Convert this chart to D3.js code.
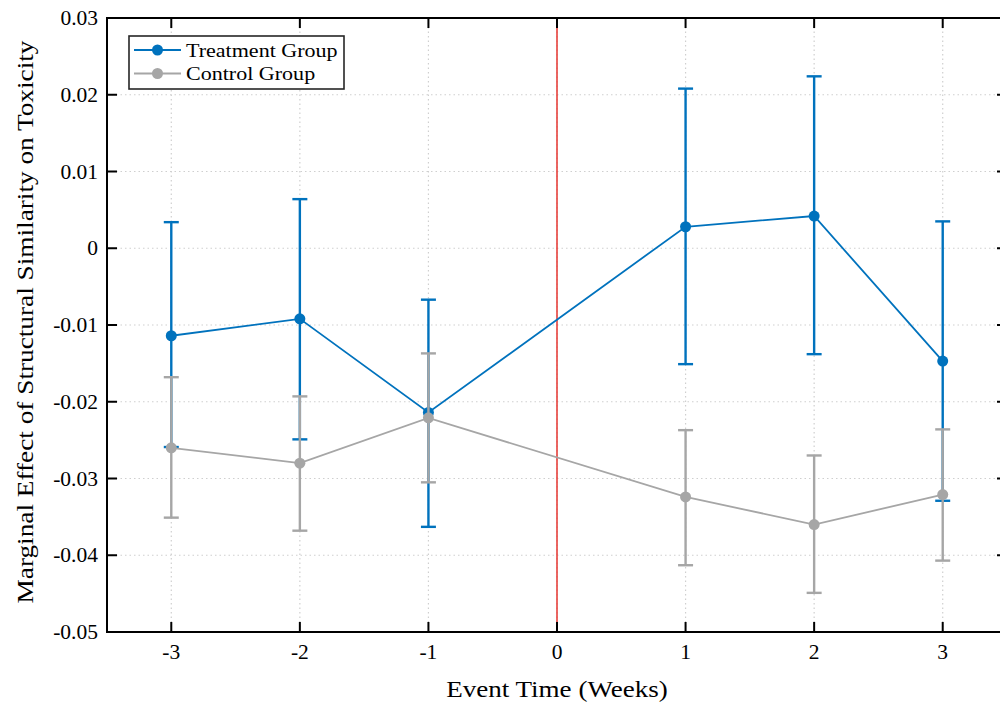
<!doctype html>
<html lang="en">
<head>
<meta charset="UTF-8">
<title>Event study</title>
<script src="https://cdn.jsdelivr.net/npm/d3@7"></script>
<style>
  body { margin: 0; background: #fff; }
  text { font-family: "Liberation Serif", "DejaVu Serif", serif; fill: #000; }
</style>
</head>
<body>
<svg id="chart" width="1000" height="706"></svg>
<script>
// event time (weeks)
const weeks = [-3, -2, -1, 1, 2, 3];
const xTicks = [-3, -2, -1, 0, 1, 2, 3];
const yTicks = [-0.05, -0.04, -0.03, -0.02, -0.01, 0, 0.01, 0.02, 0.03];

// treatment group: estimate, lower, upper
const treatMean  = [-0.0114, -0.0092, -0.0214, 0.0028, 0.0042, -0.0147];
const treatLower = [-0.0259, -0.0249, -0.0363, -0.0151, -0.0138, -0.0329];
const treatUpper = [0.0034, 0.0064, -0.0067, 0.0208, 0.0224, 0.0035];

// control group
const ctrlMean  = [-0.0260, -0.0280, -0.0221, -0.0324, -0.0360, -0.0321];
const ctrlLower = [-0.0351, -0.0368, -0.0305, -0.0413, -0.0449, -0.0407];
const ctrlUpper = [-0.0168, -0.0193, -0.0137, -0.0237, -0.0270, -0.0236];

const series = [
  { name: "Treatment Group", color: "#0072BD", mean: treatMean, lo: treatLower, hi: treatUpper },
  { name: "Control Group", color: "#A6A6A6", mean: ctrlMean, lo: ctrlLower, hi: ctrlUpper }
];

const svg = d3.select("#chart");
const m = { left: 107, top: 18, bottom: 632 };

const x = d3.scaleLinear().domain([-3.5, 3.5]).range([m.left, m.left + 900]);
const y = d3.scaleLinear().domain([-0.05, 0.03]).range([m.bottom, m.top]);

// widen Times a bit so it takes the room of the original Computer Modern text
function stretch(sel, k) {
  sel.each(function () {
    const w = this.getComputedTextLength();
    d3.select(this).attr("textLength", w * k).attr("lengthAdjust", "spacingAndGlyphs");
  });
}

// grid
const grid = svg.append("g").attr("stroke", "#cfcfcf").attr("stroke-width", 1.2)
  .attr("stroke-dasharray", "1.5,3");
grid.selectAll(".gx").data(xTicks).enter().append("line")
  .attr("x1", d => x(d)).attr("x2", d => x(d))
  .attr("y1", m.top).attr("y2", m.bottom);
grid.selectAll(".gy").data(yTicks).enter().append("line")
  .attr("x1", x(-3.5)).attr("x2", x(3.5))
  .attr("y1", d => y(d)).attr("y2", d => y(d));

// zero line
svg.append("line")
  .attr("x1", x(0)).attr("x2", x(0))
  .attr("y1", m.top).attr("y2", m.bottom)
  .attr("stroke", "#e8413c").attr("stroke-width", 1.6);

// series
const fmt = d => d === 0 ? "0" : d3.format(".2f")(d).replace("\u2212", "-");
const capW = 7.5;
series.forEach(s => {
  const g = svg.append("g");
  const pts = weeks.map((w, i) => ({ w, v: s.mean[i], lo: s.lo[i], hi: s.hi[i] }));

  const bars = g.selectAll(".eb").data(pts).enter().append("g")
    .attr("stroke", s.color).attr("stroke-width", 2.4);
  bars.append("line")
    .attr("x1", d => x(d.w)).attr("x2", d => x(d.w))
    .attr("y1", d => y(d.lo)).attr("y2", d => y(d.hi));
  bars.append("line")
    .attr("x1", d => x(d.w) - capW).attr("x2", d => x(d.w) + capW)
    .attr("y1", d => y(d.lo)).attr("y2", d => y(d.lo));
  bars.append("line")
    .attr("x1", d => x(d.w) - capW).attr("x2", d => x(d.w) + capW)
    .attr("y1", d => y(d.hi)).attr("y2", d => y(d.hi));

  g.append("path").datum(pts)
    .attr("fill", "none").attr("stroke", s.color).attr("stroke-width", 1.8)
    .attr("d", d3.line().x(d => x(d.w)).y(d => y(d.v)));

  g.selectAll("circle").data(pts).enter().append("circle")
    .attr("cx", d => x(d.w)).attr("cy", d => y(d.v)).attr("r", 5.5)
    .attr("fill", s.color);
});

// axes frame
const axisG = svg.append("g");
axisG.append("rect")
  .attr("x", x(-3.5)).attr("y", m.top)
  .attr("width", x(3.5) - x(-3.5)).attr("height", m.bottom - m.top)
  .attr("fill", "none").attr("stroke", "#000").attr("stroke-width", 2);

const tl = 10;
axisG.selectAll(".tb").data(xTicks).enter().append("line")
  .attr("x1", d => x(d)).attr("x2", d => x(d))
  .attr("y1", m.bottom).attr("y2", m.bottom - tl)
  .attr("stroke", "#000").attr("stroke-width", 2);
axisG.selectAll(".tt").data(xTicks).enter().append("line")
  .attr("x1", d => x(d)).attr("x2", d => x(d))
  .attr("y1", m.top).attr("y2", m.top + tl)
  .attr("stroke", "#000").attr("stroke-width", 2);
axisG.selectAll(".tlft").data(yTicks).enter().append("line")
  .attr("x1", x(-3.5)).attr("x2", x(-3.5) + tl)
  .attr("y1", d => y(d)).attr("y2", d => y(d))
  .attr("stroke", "#000").attr("stroke-width", 2);
axisG.selectAll(".trgt").data(yTicks).enter().append("line")
  .attr("x1", x(3.5)).attr("x2", x(3.5) - tl)
  .attr("y1", d => y(d)).attr("y2", d => y(d))
  .attr("stroke", "#000").attr("stroke-width", 2);

axisG.selectAll(".xl").data(xTicks).enter().append("text")
  .attr("x", d => x(d)).attr("y", m.bottom + 27)
  .attr("text-anchor", "middle").attr("font-size", 21.5)
  .text(d => d);
axisG.selectAll(".yl").data(yTicks).enter().append("text")
  .attr("x", x(-3.5) - 9).attr("y", d => y(d) + 7)
  .attr("text-anchor", "end").attr("font-size", 21.5)
  .text(fmt);

svg.append("text")
  .attr("x", 557).attr("y", 697)
  .attr("text-anchor", "middle").attr("font-size", 23.5)
  .text("Event Time (Weeks)")
  .call(stretch, 1.15);
svg.append("text")
  .attr("transform", "translate(33,322) rotate(-90)")
  .attr("text-anchor", "middle").attr("font-size", 23.5)
  .text("Marginal Effect of Structural Similarity on Toxicity")
  .call(stretch, 1.16);

// legend
const lg = svg.append("g");
lg.append("rect").attr("x", 129).attr("y", 36).attr("width", 215).attr("height", 53)
  .attr("fill", "#fff").attr("stroke", "#262626").attr("stroke-width", 1.6);
series.forEach((s, i) => {
  const yy = 50 + i * 23.5;
  lg.append("line").attr("x1", 134).attr("x2", 181).attr("y1", yy).attr("y2", yy)
    .attr("stroke", s.color).attr("stroke-width", 1.8);
  lg.append("circle").attr("cx", 157.5).attr("cy", yy).attr("r", 5.5).attr("fill", s.color);
  lg.append("text").attr("x", 186).attr("y", yy + 6.5).attr("font-size", 19.5).text(s.name)
    .call(stretch, 1.13);
});
</script>
</body>
</html>
